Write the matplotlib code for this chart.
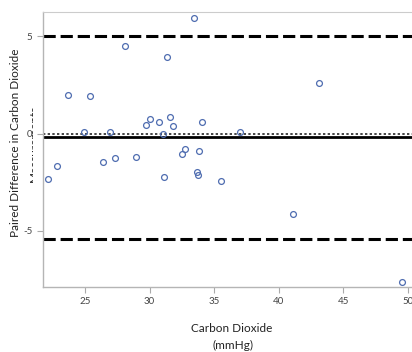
import matplotlib
matplotlib.use('Agg')
import matplotlib.pyplot as plt
from matplotlib.patches import Rectangle

# Bland-Altman style data: mean CO2 (mmHg) vs paired difference
co2_mean = [23.68, 24.95, 25.41, 26.96, 28.10, 29.74, 30.01, 30.73, 31.04, 31.37,
            31.58, 31.83, 33.41, 34.06, 22.16, 22.83, 26.42, 27.30, 28.95, 31.14,
            32.53, 32.74, 33.65, 33.77, 33.82, 35.53, 37.02, 43.09, 41.12, 49.54]
co2_diff = [1.96, 0.06, 1.90, 0.06, 4.50, 0.45, 0.73, 0.57, 0.00, 3.92,
            0.86, 0.38, 5.92, 0.57, -2.35, -1.65, -1.46, -1.24, -1.20, -2.23,
            -1.03, -0.81, -1.96, -2.15, -0.88, -2.42, 0.06, 2.61, -4.13, -7.60]

mean_diff = -0.2
upper_loa = 5.0
lower_loa = -5.4

x_ticks = [25, 30, 35, 40, 45, 50]
y_ticks = [-5, 0, 5]
y_tick_labels = ['-5', '0', '5']

plt.rcParams['font.family'] = ['Lato', 'DejaVu Sans']

W, H = 412, 352
fig = plt.figure(figsize=(W / 100, H / 100), dpi=100)
ax = fig.add_axes([42.7 / W, 1 - 286.7 / H, (W - 42.7) / W, (286.7 - 12.3) / H])

ax.axhline(upper_loa, color='black', lw=2.2, ls=(0, (4, 1.6)), zorder=2)
ax.axhline(lower_loa, color='black', lw=2.2, ls=(0, (4, 1.6)), zorder=2)
ax.axhline(0, color='#444444', lw=1.4, ls=(0, (1.2, 1.2)), zorder=2)
ax.axhline(mean_diff, color='black', lw=2.0, zorder=2)

ax.plot(co2_mean, co2_diff, 'o', ms=4.2, mfc='none', mec='#4f6db0', mew=0.9, zorder=3)

ax.set_xlim(21.73, 50.31)
ax.set_ylim(-7.86, 6.22)
ax.set_xticks(x_ticks)
ax.set_yticks(y_ticks)
ax.set_yticklabels(y_tick_labels)
ax.tick_params(colors='#aaaaaa', labelcolor='#444444', labelsize=7, length=4, width=0.8)

for side in ['left', 'bottom']:
    ax.spines[side].set_color('#b5b5b5')
    ax.spines[side].set_linewidth(1.0)
ax.spines['top'].set_color('#cccccc')
ax.spines['right'].set_visible(False)

# y label: second line is partly hidden, as in the original
fig.text(15.5 / W, 1 - 143 / H, 'Paired Difference in Carbon Dioxide', rotation=90,
         ha='center', va='center', fontsize=8.5, color='#222222', zorder=-2)
fig.text(34 / W, 1 - 143 / H, 'Measurements', rotation=90,
         ha='center', va='center', fontsize=8.5, color='#222222', zorder=-2)
fig.patches.append(Rectangle((32.5 / W, 0), 10 / W, 1, transform=fig.transFigure,
                             facecolor='white', edgecolor='none', zorder=-1))

fig.text(232 / W, 1 - 329 / H, 'Carbon Dioxide', ha='center', va='center',
         fontsize=8.5, color='#222222')
fig.text(233 / W, 1 - 345 / H, '(mmHg)', ha='center', va='center',
         fontsize=8.5, color='#222222')

fig.savefig('out.png', dpi=100)
